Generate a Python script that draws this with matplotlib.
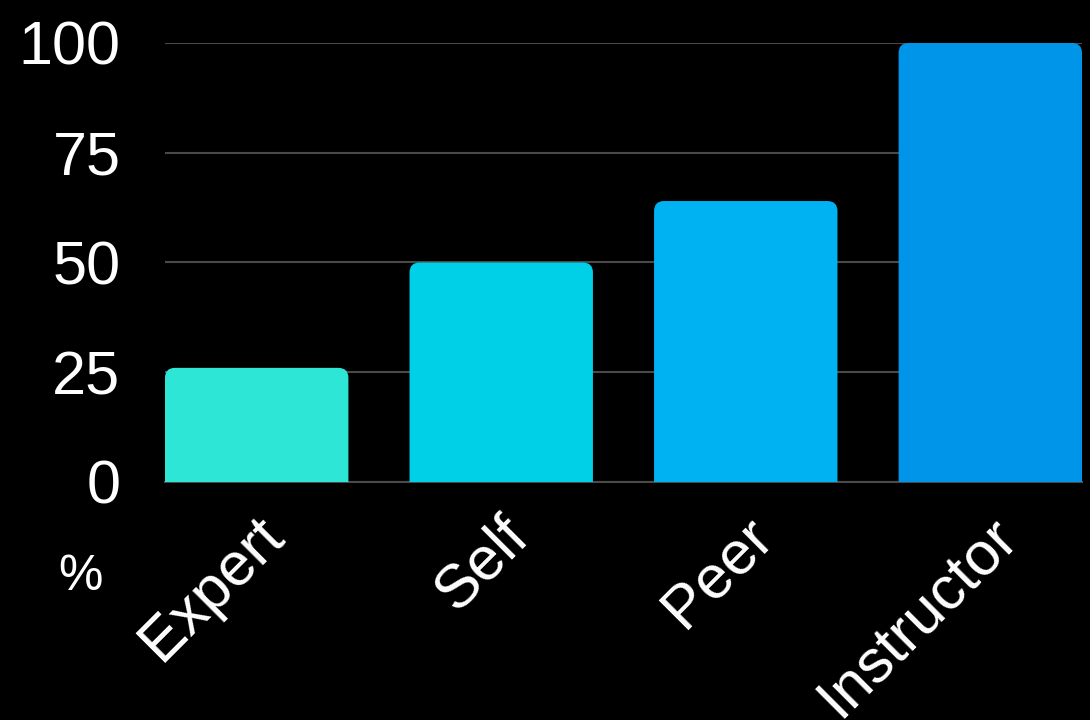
import matplotlib
matplotlib.use("Agg")
import matplotlib.pyplot as plt
from matplotlib.patches import FancyBboxPatch
import matplotlib.transforms as mtransforms

# dados do grafico
categorias = ["Expert", "Self", "Peer", "Instructor"]
valores = [26, 50, 64, 100]
cores = ["#2EE6D6", "#00CFE8", "#00B2F2", "#0095E8"]
ticks_y = [0, 25, 50, 75, 100]

plt.rcParams["font.family"] = ["Liberation Sans", "DejaVu Sans"]

fig = plt.figure(figsize=(10.9, 7.2), dpi=100, facecolor="black")
ax = fig.add_axes([165 / 1090, 1 - 482 / 720, 917 / 1090, 439 / 720])
ax.set_facecolor("black")

largura = 0.75
ax.set_xlim(-largura / 2, len(categorias) - 1 + largura / 2)
ax.set_ylim(0, 100)

# barras com cantos superiores arredondados
barras = ax.bar(range(len(categorias)), valores, width=largura, color=cores)
px_x = 917 / (ax.get_xlim()[1] - ax.get_xlim()[0])
px_y = 439 / 100
raio = 10 / px_x
for b, cor in zip(barras, cores):
    b.set_visible(False)
    p = FancyBboxPatch((b.get_x(), -15), b.get_width(), b.get_height() + 15,
                       boxstyle=f"round,pad=0,rounding_size={raio}",
                       mutation_aspect=px_x / px_y,
                       facecolor=cor, edgecolor="none", zorder=3)
    p.set_clip_on(True)
    ax.add_patch(p)

ax.set_yticks(ticks_y)
ax.set_yticklabels([str(t) for t in ticks_y], color="white", fontsize=44)
ax.grid(axis="y", color="#4a4a4a", linewidth=1.5, zorder=0)
ax.set_axisbelow(True)
ax.tick_params(axis="y", length=0, pad=32)
ax.tick_params(axis="x", length=0, pad=18)

ax.set_xticks(range(len(categorias)))
ax.set_xticklabels(categorias, color="white", fontsize=44, rotation=45,
                   ha="right", va="top", rotation_mode="anchor")
desloc = mtransforms.ScaledTranslation(-2 / 100, 0, fig.dpi_scale_trans)
for lbl in ax.get_xticklabels():
    lbl.set_transform(lbl.get_transform() + desloc)

for s in ["top", "right", "left"]:
    ax.spines[s].set_visible(False)
ax.spines["bottom"].set_color("#4a4a4a")
ax.spines["bottom"].set_linewidth(1.5)

fig.text(80 / 1090, 1 - 577 / 720, "%", color="white", fontsize=36,
         ha="center", va="center")

fig.savefig("out.png", dpi=100, facecolor="black")
